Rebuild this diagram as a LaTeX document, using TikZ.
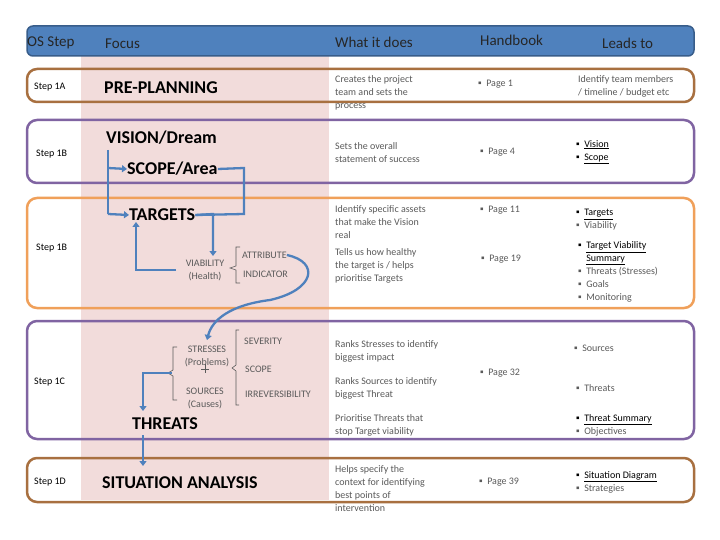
\documentclass[tikz,border=0pt]{standalone}
\usepackage{fontspec}
\setmainfont{Carlito}
\usetikzlibrary{arrows.meta}
\definecolor{hdr}{RGB}{79,129,189}
\definecolor{hdrd}{RGB}{56,93,138}
\definecolor{brn}{RGB}{168,112,64}
\definecolor{prp}{RGB}{128,100,162}
\definecolor{org}{RGB}{240,160,90}
\definecolor{pnk}{RGB}{242,220,219}
\definecolor{arr}{RGB}{79,129,189}
\definecolor{gtx}{RGB}{90,90,90}
\tikzset{
 box/.style={rounded corners=10pt,line width=2.5pt},
 sm/.style={font=\fontsize{10}{13}\selectfont,text=gtx,align=left,anchor=west,inner sep=0pt},
 big/.style={font=\fontsize{18}{20}\selectfont\bfseries,anchor=west,inner sep=0pt},
 stp/.style={font=\fontsize{10}{11}\selectfont,anchor=west,inner sep=0pt},
 hd/.style={font=\fontsize{15}{17}\selectfont,anchor=west,inner sep=0pt,text=black!85},
 con/.style={draw=arr,line width=2.3pt,-{Triangle[length=5pt,width=7pt]}},
 ln/.style={draw=arr,line width=2.3pt},
 brk/.style={draw=gtx,line width=0.6pt}
}
\begin{document}
\begin{tikzpicture}[x=1pt,y=-1pt]
\useasboundingbox (0,0) rectangle (720,540);
\fill[white] (0,0) rectangle (720,540);
\fill[pnk] (81,56) rectangle (329,500);
\fill[hdr,draw=hdrd,line width=1.5pt,rounded corners=6pt] (27,26) rectangle (694,56);
\draw[box,brn] (27,69) rectangle (694,102);
\draw[box,prp] (27,120) rectangle (694,183);
\draw[box,org] (27,198) rectangle (694,308);
\draw[box,prp] (27,321) rectangle (694,439);
\draw[box,brn] (27,458) rectangle (694,502);
% header
\node[hd] (h1) at (27,43) {OS Step};
\node[hd] (h2) at (105,44) {Focus};
\node[hd] (h3) at (335,42) {What it does};
\node[hd] (h4) at (480,40) {Handbook};
\node[hd] (h5) at (602,43) {Leads to};
% steps
\node[stp] (s1) at (34,87) {Step 1A};
\node[stp] (s2) at (36,154) {Step 1B};
\node[stp] (s3) at (36,248) {Step 1B};
\node[stp] (s4) at (34,382) {Step 1C};
\node[stp] (s5) at (34,482) {Step 1D};
% focus
\node[big] (pre) at (104,88) {PRE-PLANNING};
\node[big] (vis) at (106,138) {VISION/Dream};
\node[big] (sco) at (127,169) {SCOPE/Area};
\node[big] (tar) at (129,215) {TARGETS};
\node[big] (thr) at (132,424) {THREATS};
\node[big] (sit) at (102,483) {SITUATION ANALYSIS};
\node[sm,align=center,anchor=center] (via) at (205,270) {VIABILITY\\(Health)};
\node[sm] (att) at (242,255) {ATTRIBUTE};
\node[sm] (ind) at (243,274) {INDICATOR};
\node[sm,align=center,anchor=center] (str) at (207,356) {STRESSES\\(Problems)};
\node[sm,align=center,anchor=center] (sou) at (205,398) {SOURCES\\(Causes)};
\node[sm] (sev) at (244,341) {SEVERITY};
\node[sm] (scp) at (245,369) {SCOPE};
\node[sm] (irr) at (245,394) {IRREVERSIBILITY};
\draw[gtx,line width=0.6pt] (205,364)--(205,373) (201,369)--(209,369);
% brackets
\draw[brk] (240,247)--(236,247)--(236,266)--(230,268)--(236,270)--(236,283)--(240,283);
\draw[brk] (239,330)--(236,330)--(236,365)--(232,368)--(236,371)--(236,405)--(239,405);
\draw[brk] (177,347)--(173,347)--(173,370)--(168,373)--(173,376)--(173,400)--(177,400);
% connectors
\coordinate (v1) at (108,150);
\draw[ln] (v1)--(108,214);
\draw[con] (108,168)--(sco.west);
\draw[con] (108,214)--(tar.west);
\draw[ln] (sco.east)--(244,168)--(244,214)--(tar.east);
\draw[con] (tar.east)--(213,214)--(213,256);
\draw[con] (176,270)--(136,270)--(136,222);
\draw[con] (att.east) .. controls (320,262) and (315,290) .. (270,300) .. controls (230,305) and (212,320) .. (207,340);
\draw[con] (172,373)--(143,373)--(143,411);
\draw[con] (143,435)--(143,466);
% what it does
\node[sm] (w1) at (335,93) {Creates the project\\team and sets the\\process};
\node[sm] (w2) at (335,153) {Sets the overall\\statement of success};
\node[sm] (w3) at (335,222) {Identify specific assets\\that make the Vision\\real};
\node[sm] (w4) at (335,266) {Tells us how healthy\\the target is / helps\\prioritise Targets};
\node[sm] (w5) at (335,351) {Ranks Stresses to identify\\biggest impact};
\node[sm] (w6) at (335,388) {Ranks Sources to identify\\biggest Threat};
\node[sm] (w7) at (335,425) {Prioritise Threats that\\stop Target viability};
\node[sm] (w8) at (335,489) {Helps specify the\\context for identifying\\best points of\\intervention};
% handbook
\node[sm] (p1) at (478,84) {▪\ \ Page 1};
\node[sm] (p2) at (480,152) {▪\ \ Page 4};
\node[sm] (p3) at (480,210) {▪\ \ Page 11};
\node[sm] (p4) at (481,259) {▪\ \ Page 19};
\node[sm] (p5) at (480,373) {▪\ \ Page 32};
\node[sm] (p6) at (479,482) {▪\ \ Page 39};
% leads to
\node[sm] (l1) at (578,86) {Identify team members\\/ timeline / budget etc};
\node[sm,text=black] (l2) at (576,152) {▪\ \ \underline{Vision}\\▪\ \ \underline{Scope}};
\node[sm] (l3) at (576,220) {\textcolor{black}{▪\ \ \underline{Targets}}\\▪\ \ Viability};
\node[sm] (l4) at (578,272) {\textcolor{black}{▪\ \ \underline{Target Viability}}\\\hphantom{▪\ \ }\textcolor{black}{\underline{Summary}}\\▪\ \ Threats (Stresses)\\▪\ \ Goals\\▪\ \ Monitoring};
\node[sm] (l5) at (574,348) {▪\ \ Sources};
\node[sm] (l6) at (576,388) {▪\ \ Threats};
\node[sm] (l7) at (576,425) {\textcolor{black}{▪\ \ \underline{Threat Summary}}\\▪\ \ Objectives};
\node[sm] (l8) at (576,482) {\textcolor{black}{▪\ \ \underline{Situation Diagram}}\\▪\ \ Strategies};
\end{tikzpicture}
\end{document}
